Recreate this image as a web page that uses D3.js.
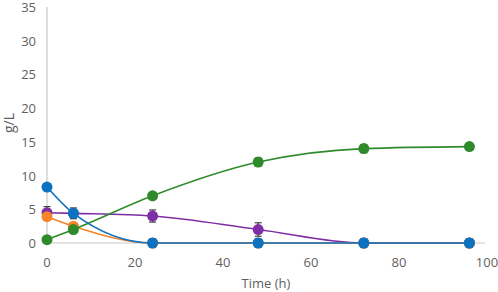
<!DOCTYPE html>
<html>
<head>
<meta charset="utf-8">
<script src="https://cdn.jsdelivr.net/npm/d3@7"></script>
<style>
  body { margin: 0; background: #fff; }
  svg text { font-family: "Open Sans", "Liberation Sans", sans-serif; fill: #5f5f5f; }
</style>
</head>
<body>
<svg id="chart" width="498" height="292"></svg>
<script>
// time points (h)
const times = [0, 6, 24, 48, 72, 96];

// series values (g/L) and their error bars, drawn in this order
const purpleVals = [4.5, 4.4, 4.0, 2.0, 0, 0];
const purpleErr  = [0.9, 0, 0.9, 1.0, 0, 0];
const orangeVals = [3.9, 2.5, 0, 0, 0, 0];
const orangeErr  = [0.4, 0.5, 0, 0, 0, 0];
const greenVals  = [0.5, 2.0, 7.0, 12.0, 14.0, 14.3];
const greenErr   = [0, 0, 0, 0.6, 0.6, 0.3];
const blueVals   = [8.3, 4.4, 0, 0, 0, 0];
const blueErr    = [0, 0.8, 0.6, 0.6, 0.6, 0.6];

const xTicks = [0, 20, 40, 60, 80, 100];
const yTicks = [0, 5, 10, 15, 20, 25, 30, 35];

const series = [
  { vals: purpleVals, err: purpleErr, color: "#7f2fa6" },
  { vals: orangeVals, err: orangeErr, color: "#f6842a" },
  { vals: greenVals,  err: greenErr,  color: "#2f8a2b" },
  { vals: blueVals,   err: blueErr,   color: "#0b72c2" }
];

const svg = d3.select("#chart");
const x = d3.scaleLinear().domain([0, 100]).range([47, 487]);
const y = d3.scaleLinear().domain([0, 35]).range([243, 7]);

/* axis lines */
svg.append("line")
  .attr("x1", x(0)).attr("x2", 485)
  .attr("y1", y(0)).attr("y2", y(0))
  .attr("stroke", "#c8c8c8").attr("stroke-width", 1.2);
svg.append("line")
  .attr("x1", x(0)).attr("x2", x(0))
  .attr("y1", y(0)).attr("y2", y(35))
  .attr("stroke", "#c8c8c8").attr("stroke-width", 1.2);

/* tick labels */
svg.append("g").selectAll("text")
  .data(yTicks).enter().append("text")
  .attr("x", 36).attr("y", d => y(d) + 5)
  .attr("text-anchor", "end").attr("font-size", 13)
  .text(d => d);
svg.append("g").selectAll("text")
  .data(xTicks).enter().append("text")
  .attr("x", d => x(d)).attr("y", 267)
  .attr("text-anchor", "middle").attr("font-size", 13)
  .text(d => d);

svg.append("text")
  .attr("x", 266).attr("y", 288)
  .attr("text-anchor", "middle").attr("font-size", 13)
  .text("Time (h)");
svg.append("text")
  .attr("transform", `translate(14, ${y(17.8)}) rotate(-90)`)
  .attr("text-anchor", "middle").attr("font-size", 14)
  .text("g/L");

const line = d3.line()
  .x(d => x(d.t)).y(d => y(d.v))
  .curve(d3.curveMonotoneX);

series.forEach(s => {
  const pts = times.map((t, i) => ({ t: t, v: s.vals[i], e: s.err[i] }));
  const g = svg.append("g");

  g.append("path")
    .datum(pts)
    .attr("d", line)
    .attr("fill", "none")
    .attr("stroke", s.color)
    .attr("stroke-width", 1.6);

  /* error bars */
  const eb = g.selectAll(".err").data(pts.filter(d => d.e > 0)).enter().append("g");
  eb.append("line")
    .attr("x1", d => x(d.t)).attr("x2", d => x(d.t))
    .attr("y1", d => y(d.v - d.e)).attr("y2", d => y(d.v + d.e))
    .attr("stroke", "#404040").attr("stroke-width", 1.2);
  [-1, 1].forEach(sg => {
    eb.append("line")
      .attr("x1", d => x(d.t) - 3.5).attr("x2", d => x(d.t) + 3.5)
      .attr("y1", d => y(d.v + sg * d.e)).attr("y2", d => y(d.v + sg * d.e))
      .attr("stroke", "#404040").attr("stroke-width", 1.2);
  });

  g.selectAll("circle").data(pts).enter().append("circle")
    .attr("cx", d => x(d.t)).attr("cy", d => y(d.v))
    .attr("r", 5.5)
    .attr("fill", s.color);
});
</script>
</body>
</html>
